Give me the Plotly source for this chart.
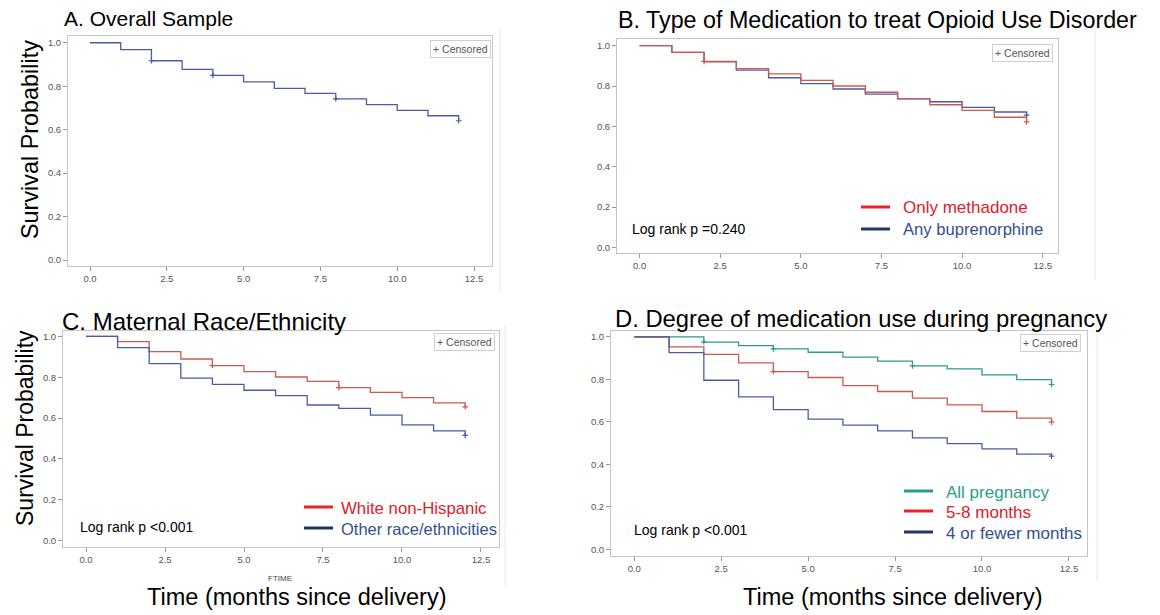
import plotly.graph_objects as go

# ---------------- data ----------------
months = [0, 1, 2, 3, 4, 5, 6, 7, 8, 9, 10, 11, 12]
x_ticks = [0, 2.5, 5, 7.5, 10, 12.5]
x_tick_labels = ["0.0", "2.5", "5.0", "7.5", "10.0", "12.5"]
y_ticks = [0, 0.2, 0.4, 0.6, 0.8, 1.0]
y_tick_labels = ["0.0", "0.2", "0.4", "0.6", "0.8", "1.0"]

surv_overall = [1.0, 0.968, 0.917, 0.877, 0.85, 0.82, 0.79, 0.767, 0.742, 0.715, 0.689, 0.664, 0.641]
cens_overall_t = [2, 4, 8, 12]
cens_overall_s = [0.917, 0.85, 0.742, 0.641]

surv_methadone = [1.0, 0.967, 0.922, 0.886, 0.86, 0.828, 0.80, 0.769, 0.737, 0.707, 0.679, 0.645, 0.622]
surv_bupre = [1.0, 0.967, 0.92, 0.879, 0.841, 0.812, 0.785, 0.76, 0.736, 0.722, 0.694, 0.671, 0.656]
cens_methadone_t = [2, 12]
cens_methadone_s = [0.922, 0.622]
cens_bupre_t = [12]
cens_bupre_s = [0.656]

surv_white = [1.0, 0.974, 0.925, 0.889, 0.857, 0.827, 0.801, 0.779, 0.749, 0.726, 0.70, 0.674, 0.655]
surv_other = [1.0, 0.945, 0.866, 0.795, 0.765, 0.736, 0.71, 0.664, 0.647, 0.614, 0.567, 0.537, 0.515]
cens_white_t = [4, 8, 12]
cens_white_s = [0.857, 0.749, 0.655]
cens_other_t = [12]
cens_other_s = [0.515]

surv_allpreg = [1.0, 1.0, 0.976, 0.959, 0.944, 0.928, 0.905, 0.886, 0.864, 0.85, 0.821, 0.799, 0.776]
surv_5to8 = [1.0, 0.953, 0.918, 0.878, 0.837, 0.809, 0.771, 0.743, 0.712, 0.68, 0.649, 0.618, 0.599]
surv_4less = [1.0, 0.926, 0.796, 0.718, 0.658, 0.613, 0.585, 0.558, 0.525, 0.498, 0.473, 0.448, 0.439]
cens_allpreg_t = [2, 4, 8, 12]
cens_allpreg_s = [0.976, 0.944, 0.864, 0.776]
cens_5to8_t = [4, 12]
cens_5to8_s = [0.837, 0.599]
cens_4less_t = [12]
cens_4less_s = [0.439]

# ---------------- styles ----------------
BLUE = "#4a5ca8"
RED = "#cc5a50"
TEAL = "#2a9c88"
LEG_RED = "#e8232c"
LEG_NAVY = "#1f3768"
TXT_NAVY = "#34508e"
TXT_RED = "#e0202a"
TXT_TEAL = "#2a9d8a"
FONT = "Liberation Sans, Arial, sans-serif"

# the page body has an 8px margin; the figure is sized so that it fills the window
OFF = 8
WIN_W, WIN_H = 1160, 615
W, H = WIN_W - OFF, WIN_H - OFF

def px(x):
    return (x - OFF) / W

def py(y):
    return 1 - (y - OFF) / H

panels = [
    # (axis suffix, x domain px, y domain px (top,bottom), x range, y range)
    ("", (68, 492), (36, 266), (-0.716, 13.086), (-0.0276, 1.031)),
    ("2", (617, 1058), (39, 253), (-0.70, 12.974), (-0.028, 1.033)),
    ("3", (63, 499), (331, 547), (-0.728, 13.07), (-0.031, 1.026)),
    ("4", (611, 1087), (331, 556), (-0.67, 13.02), (-0.0315, 1.028)),
]

fig = go.Figure()

def add_curve(ax, surv, color, ct, cs):
    xa = "x" + ax
    ya = "y" + ax
    fig.add_trace(go.Scatter(x=months, y=surv, mode="lines", line=dict(color=color, width=1.3, shape="hv"),
                             xaxis=xa, yaxis=ya, showlegend=False, hoverinfo="skip"))
    fig.add_trace(go.Scatter(x=ct, y=cs, mode="markers",
                             marker=dict(symbol="cross-thin", size=4, line=dict(color=color, width=1.2)),
                             xaxis=xa, yaxis=ya, showlegend=False, hoverinfo="skip"))

add_curve("", surv_overall, BLUE, cens_overall_t, cens_overall_s)
add_curve("2", surv_bupre, BLUE, cens_bupre_t, cens_bupre_s)
add_curve("2", surv_methadone, RED, cens_methadone_t, cens_methadone_s)
add_curve("3", surv_white, RED, cens_white_t, cens_white_s)
add_curve("3", surv_other, BLUE, cens_other_t, cens_other_s)
add_curve("4", surv_allpreg, TEAL, cens_allpreg_t, cens_allpreg_s)
add_curve("4", surv_5to8, RED, cens_5to8_t, cens_5to8_s)
add_curve("4", surv_4less, BLUE, cens_4less_t, cens_4less_s)

layout = dict(
    width=W, height=H,
    margin=dict(l=0, r=0, t=0, b=0),
    paper_bgcolor="white", plot_bgcolor="white",
    font=dict(family=FONT, color="#000"),
    showlegend=False,
)

axis_common = dict(showgrid=False, zeroline=False, showline=True, linecolor="#c4c4c4", linewidth=1,
                   mirror=True, ticks="outside", ticklen=4, tickcolor="#9a9a9a",
                   tickfont=dict(size=9.5, color="#555555", family=FONT))

for suf, (xl, xr), (yt, yb), xr_, yr_ in panels:
    xk = "xaxis" + suf
    yk = "yaxis" + suf
    layout[xk] = dict(axis_common, domain=[px(xl), px(xr)], range=list(xr_),
                      tickvals=x_ticks, ticktext=x_tick_labels, anchor="y" + suf)
    layout[yk] = dict(axis_common, domain=[py(yb), py(yt)], range=list(yr_),
                      tickvals=y_ticks, ticktext=y_tick_labels, anchor="x" + suf)

fig.update_layout(**layout)

ann = []

def text(x, y, s, size, color="#000", xanchor="left", yanchor="middle", angle=0, **kw):
    ann.append(dict(x=px(x), y=py(y), xref="paper", yref="paper", text=s, showarrow=False,
                    xanchor=xanchor, yanchor=yanchor, textangle=angle,
                    font=dict(size=size, color=color, family=FONT), **kw))

# panel titles
text(62, 18, "A. Overall Sample", 21)
text(616, 20, "B. Type of Medication to treat Opioid Use Disorder", 23.3)
text(60, 321, "C. Maternal Race/Ethnicity", 24)
text(613, 318, "D. Degree of medication use during pregnancy", 23.8)

# y-axis titles
text(30, 140, "Survival Probability", 23.4, xanchor="center", angle=-90)
text(25, 428, "Survival Probability", 23, xanchor="center", angle=-90)

# x-axis titles
text(297, 597, "Time (months since delivery)", 23.5, xanchor="center")
text(893, 597, "Time (months since delivery)", 23.5, xanchor="center")
text(280, 578, "FTIME", 8, color="#444", xanchor="center")

# censored boxes
def cens_box(xr, yt):
    ann.append(dict(x=px(xr), y=py(yt), xref="paper", yref="paper", text="+ Censored", showarrow=False,
                    xanchor="right", yanchor="top", bordercolor="#cfcfcf", borderwidth=1, borderpad=2,
                    font=dict(size=10.5, color="#555555", family=FONT)))

cens_box(491, 40)
cens_box(1053, 44)
cens_box(495, 333)
cens_box(1081, 334)

# log rank texts
text(630, 229, "Log rank p =0.240", 14)
text(78, 527, "Log rank p <0.001", 14)
text(632, 530, "Log rank p <0.001", 14)

# legends (line samples + labels)
shapes = []

def leg(x0, x1, y, color, label, tcolor, tx, size=17):
    shapes.append(dict(type="line", xref="paper", yref="paper", x0=px(x0), x1=px(x1), y0=py(y), y1=py(y),
                       line=dict(color=color, width=3)))
    text(tx, y + 1, label, size, color=tcolor)

leg(861, 890, 207, LEG_RED, "Only methadone", TXT_RED, 901)
leg(861, 890, 229, LEG_NAVY, "Any buprenorphine", TXT_NAVY, 901, 16.6)
leg(304, 333, 507, LEG_RED, "White non-Hispanic", TXT_RED, 339, 16.8)
leg(304, 333, 528, LEG_NAVY, "Other race/ethnicities", TXT_NAVY, 339, 16.5)
leg(904, 933, 491, TEAL, "All pregnancy", TXT_TEAL, 944)
leg(904, 933, 511, LEG_RED, "5-8 months", TXT_RED, 944)
leg(904, 933, 532, LEG_NAVY, "4 or fewer months", TXT_NAVY, 944)

# faint separators of the original image panels
for xx, y0, y1 in [(500, 30, 292), (1095, 30, 280), (505, 325, 585), (1097, 320, 580)]:
    shapes.append(dict(type="line", xref="paper", yref="paper", x0=px(xx), x1=px(xx), y0=py(y0), y1=py(y1),
                       line=dict(color="#e6e6e6", width=1)))

fig.update_layout(annotations=ann, shapes=shapes)

fig.write_html("out.html")
